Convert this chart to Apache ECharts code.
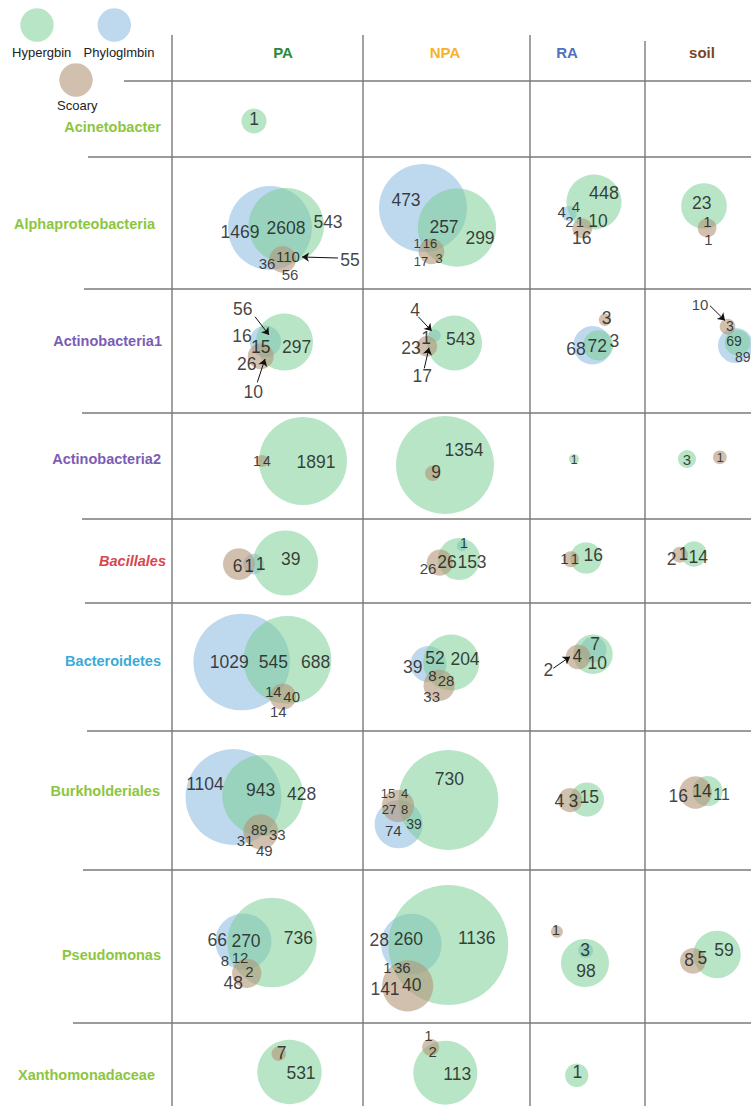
<!DOCTYPE html>
<html>
<head>
<meta charset="utf-8">
<script src="https://cdn.jsdelivr.net/npm/echarts@6/dist/echarts.min.js"></script>
<style>
  html, body { margin: 0; padding: 0; background: #ffffff; }
  #chart { width: 751px; height: 1106px; }
</style>
</head>
<body>
<div id="chart"></div>
<script>
// ---- data -------------------------------------------------------------
const setNames = { H: 'Hypergbin', P: 'Phyloglmbin', S: 'Scoary' };
const sites = ['PA', 'NPA', 'RA', 'soil'];
const taxa = ['Acinetobacter', 'Alphaproteobacteria', 'Actinobacteria1', 'Actinobacteria2',
  'Bacillales', 'Bacteroidetes', 'Burkholderiales', 'Pseudomonas', 'Xanthomonadaceae'];

// Venn region counts, order: H only, P only, S only, H&P, H&S, P&S, H&P&S
const regions = ['H', 'P', 'S', 'HP', 'HS', 'PS', 'HPS'];

// one entry per site (PA, NPA, RA, soil); null = no diagram
const acinetobacter = [[1, 0, 0, 0, 0, 0, 0], null, null, null];
const alphaproteobacteria = [[543, 1469, 56, 2608, 55, 36, 110], [299, 473, 17, 257, 3, 1, 16], [448, 4, 16, 4, 10, 2, 1], [23, 0, 1, 0, 1, 0, 0]];
const actinobacteria1 = [[297, 16, 26, 56, 10, 0, 15], [543, 0, 23, 4, 17, 0, 1], [3, 68, 3, 72, 0, 0, 0], [0, 89, 10, 69, 0, 3, 0]];
const actinobacteria2 = [[1891, 0, 1, 0, 4, 0, 0], [1354, 0, 0, 0, 9, 0, 0], [1, 0, 0, 0, 0, 0, 0], [3, 0, 1, 0, 0, 0, 0]];
const bacillales = [[39, 0, 6, 1, 0, 1, 0], [153, 0, 26, 1, 26, 0, 0], [16, 0, 1, 0, 1, 0, 0], [14, 0, 2, 0, 1, 0, 0]];
const bacteroidetes = [[688, 1029, 14, 545, 40, 0, 14], [204, 39, 33, 52, 28, 0, 8], [10, 0, 2, 7, 4, 0, 0], null];
const burkholderiales = [[428, 1104, 49, 943, 33, 31, 89], [730, 74, 15, 39, 4, 27, 8], [15, 0, 4, 0, 3, 0, 0], [11, 0, 16, 0, 14, 0, 0]];
const pseudomonas = [[736, 66, 48, 270, 2, 8, 12], [1136, 28, 141, 260, 40, 1, 36], [98, 0, 1, 3, 0, 0, 0], [59, 0, 8, 0, 5, 0, 0]];
const xanthomonadaceae = [[531, 0, 0, 0, 7, 0, 0], [113, 0, 1, 0, 2, 0, 0], [1, 0, 0, 0, 0, 0, 0], null];

const taxonCounts = [acinetobacter, alphaproteobacteria, actinobacteria1, actinobacteria2,
  bacillales, bacteroidetes, burkholderiales, pseudomonas, xanthomonadaceae];

// ---- table geometry & styles -------------------------------------------
const W = 751, H = 1106;
const colEdges = [172, 363, 530, 645, 751];
const rowEdges = [81, 157, 289, 413, 519, 603, 731, 870, 1023, 1106];
const rowLineStart = [124, 88, 84, 82, 82, 85, 87, 83, 73];
const headerX = [283, 445, 567, 702];
const headerColors = ['#2c8a3c', '#f6b22c', '#5070c0', '#7a4520'];
const rowLabelColors = ['#8cc63e', '#8cc63e', '#7b5db5', '#7b5db5', '#d9474b', '#3aabd6', '#8cc63e', '#8cc63e', '#8cc63e'];
const rowLabelRight = [161, 155, 162, 161, 166, 161, 160, 161, 155];
const rowLabelY = [127, 224, 341, 459, 561, 661, 791, 955, 1075];
const fills = { H: 'rgba(124,208,150,0.55)', P: 'rgba(137,184,224,0.55)', S: 'rgba(178,146,118,0.58)' };
const FONT = '"Liberation Sans", Arial, Helvetica, sans-serif';

// Per-diagram layout: radius of the largest circle, position of the first circle
// inside its cell, the direction in which each further circle is placed from another
// one (distance follows from the shared count), and where region counts are written.
const layout = {
  'Acinetobacter|PA': { size: 12.5, first: 'H', at: [82, 40], place: [], labels: [['H', 82, 38]] },

  'Alphaproteobacteria|PA': { size: 42, first: 'P', at: [98, 71], place: [['H', 'P', -8], ['S', 'H', 96]],
    labels: [['P', 68, 75], ['HP', 114, 71], ['H', 156, 65], ['HPS', 116, 99, 15], ['PS', 95, 106, 15], ['S', 118, 117, 15], ['HS', 178, 103]],
    arrows: [[166, 101, 130, 100]] },
  'Alphaproteobacteria|NPA': { size: 44, first: 'P', at: [60, 51], place: [['H', 'P', 30], ['S', 'P', 79]],
    labels: [['P', 43, 43], ['HP', 81, 70], ['H', 117, 81], ['PS', 54, 86, 13], ['HPS', 67, 86, 13], ['S', 58, 104, 13], ['HS', 76, 101.5, 13]] },
  'Alphaproteobacteria|RA': { size: 27.5, first: 'H', at: [64, 45], place: [['P', 'H', 155], ['S', 'H', 114]],
    labels: [['H', 74, 36, 18], ['P', 31.7, 54.7, 15], ['HP', 46, 49.7, 15], ['PS', 39.3, 64.7, 15], ['HPS', 50, 64.7, 15], ['HS', 68, 64], ['S', 51.7, 81.3]] },
  'Alphaproteobacteria|soil': { size: 22.8, first: 'H', at: [59, 49], place: [['S', 'H', 82]],
    labels: [['H', 56.7, 45.7], ['HS', 62.3, 64.7, 15], ['S', 63.3, 82.3, 15]] },

  'Actinobacteria1|PA': { size: 28.5, first: 'H', at: [112.5, 53], place: [['P', 'H', 182], ['S', 'H', 149]],
    labels: [['HP', 70.7, 20], ['P', 70, 46.7], ['HPS', 88.7, 58.3], ['H', 124.7, 57.7], ['S', 74.7, 75], ['HS', 81.3, 102.7]],
    arrows: [[83, 27.7, 97, 46], [85.3, 93.3, 93, 70]] },
  'Actinobacteria1|NPA': { size: 27.5, first: 'H', at: [91.5, 54], place: [['P', 'H', 200, { inset: 1 }], ['S', 'H', 173]],
    labels: [['HP', 52, 21], ['HPS', 63, 48.7], ['S', 48, 58.7], ['HS', 59.3, 86.7], ['H', 97.7, 50.3]],
    arrows: [[55.3, 27.7, 68.7, 42], [61.3, 79.3, 66, 58.7]] },
  'Actinobacteria1|RA': { size: 19.2, first: 'P', at: [62.5, 56.3], place: [['H', 'P', 0], ['S', 'P', -64, { gap: 3 }]],
    labels: [['S', 76.7, 29.3], ['P', 46, 60], ['HP', 67.3, 56.7], ['H', 84.3, 52]] },
  'Actinobacteria1|soil': { size: 17.5, first: 'P', at: [90.5, 56.5], place: [['H', 'P', -55, { inset: 0.75 }], ['S', 'P', 247]],
    labels: [['S', 55, 15.3, 15], ['PS', 85, 36.5, 14], ['HP', 89, 51.5, 14], ['P', 97.7, 67.5, 14]],
    arrows: [[65, 16.7, 80, 31.5]] },

  'Actinobacteria2|PA': { size: 44, first: 'H', at: [131, 48], place: [['S', 'H', 180]],
    labels: [['S', 85, 48, 14], ['HS', 95, 48, 14], ['H', 144, 49]] },
  'Actinobacteria2|NPA': { size: 49, first: 'H', at: [82, 52], place: [['S', 'H', 146, { inset: 0.36 }]],
    labels: [['H', 101, 37], ['HS', 73, 59]] },
  'Actinobacteria2|RA': { size: 5, first: 'H', at: [44, 46], place: [], labels: [['H', 44, 46, 13]] },
  'Actinobacteria2|soil': { size: 9, first: 'H', at: [42, 46], place: [['S', 'H', -3, { gap: 17 }]],
    labels: [['H', 42, 46, 15], ['S', 75, 44, 13]] },

  'Bacillales|PA': { size: 32.5, first: 'H', at: [113.5, 44], place: [['P', 'H', 178], ['S', 'P', 180]],
    labels: [['S', 65.7, 47], ['PS', 77, 47], ['HP', 88.7, 45.3], ['H', 118.7, 39.7]] },
  'Bacillales|NPA': { size: 21, first: 'H', at: [96, 40], place: [['S', 'H', 169], ['P', 'H', -77, { inset: 0.85 }]],
    labels: [['HP', 101, 23, 15], ['S', 65, 49, 15], ['HS', 84, 43], ['H', 109, 43]] },
  'Bacillales|RA': { size: 15.8, first: 'H', at: [56, 39], place: [['S', 'H', 175]],
    labels: [['S', 34.5, 39.7, 15], ['HS', 45, 39.7, 15], ['H', 63.3, 36.3]] },
  'Bacillales|soil': { size: 12.8, first: 'H', at: [49, 35], place: [['S', 'H', 177]],
    labels: [['S', 26.7, 39.7], ['HS', 38.3, 35.3], ['H', 53.3, 37.7]] },

  'Bacteroidetes|PA': { size: 48.3, first: 'P', at: [69.7, 59], place: [['H', 'P', -2.6], ['S', 'H', 97]],
    labels: [['P', 57.3, 58.7], ['HP', 101.3, 59.3], ['H', 143.7, 58.7], ['HPS', 101.3, 88.7, 15], ['HS', 119.7, 93.7, 15], ['S', 106.3, 108.7, 15]] },
  'Bacteroidetes|NPA': { size: 28, first: 'H', at: [88.3, 59.5], place: [['P', 'H', 176], ['S', 'H', 118]],
    labels: [['P', 49.7, 63.7], ['HP', 72, 55.3], ['H', 102, 56.3], ['HPS', 69.3, 72, 15], ['HS', 83, 77, 15], ['S', 68.7, 93.7, 15]] },
  'Bacteroidetes|RA': { size: 19.7, first: 'H', at: [63, 51.3], place: [['P', 'H', -84, { inset: 0.7 }], ['S', 'H', 170]],
    labels: [['HP', 65, 41.3], ['H', 67.3, 60.3], ['HS', 47.3, 52.7], ['S', 18.3, 67]],
    arrows: [[23.3, 65.3, 40, 53.7]] },

  'Burkholderiales|PA': { size: 48, first: 'P', at: [61.5, 66], place: [['H', 'P', -3], ['S', 'H', 93]],
    labels: [['P', 33, 53], ['HP', 88.7, 59], ['H', 129.7, 63.3], ['HPS', 87.3, 98, 15], ['HS', 105.3, 103.3, 15], ['PS', 73, 109, 15], ['S', 92.3, 119, 15]] },
  'Burkholderiales|NPA': { size: 50, first: 'H', at: [85.3, 69], place: [['P', 'H', 154], ['S', 'P', 268]],
    labels: [['H', 86.3, 48], ['S', 25, 62.5, 13], ['HS', 41.5, 62.5, 13], ['PS', 26, 78.5, 13], ['HPS', 41.5, 78.5, 13], ['HP', 51, 93, 14], ['P', 30.3, 99, 15]] },
  'Burkholderiales|RA': { size: 17, first: 'H', at: [57, 68.5], place: [['S', 'H', 178]],
    labels: [['S', 29.3, 69.7], ['HS', 43.3, 69.7], ['H', 59.3, 65.7]] },
  'Burkholderiales|soil': { size: 16.2, first: 'S', at: [50.5, 61.5], place: [['H', 'S', -6.5]],
    labels: [['S', 33.3, 65], ['HS', 57, 59.7], ['H', 76.5, 63, 16]] },

  'Pseudomonas|PA': { size: 44.7, first: 'H', at: [100, 72.5], place: [['P', 'H', 182], ['S', 'P', 84]],
    labels: [['P', 45.3, 70], ['HP', 74, 70.7], ['H', 126.3, 68.3], ['PS', 53, 90.7, 15], ['HPS', 68, 87.3, 15], ['HS', 77.3, 101.7, 15], ['S', 61.3, 113.3]] },
  'Pseudomonas|NPA': { size: 60, first: 'H', at: [85.3, 75], place: [['P', 'H', 181.5], ['S', 'P', 95]],
    labels: [['P', 16.3, 70], ['HP', 45.3, 69.3], ['H', 113.7, 68.3], ['PS', 24.3, 97.3, 15], ['HPS', 39.3, 97.3, 15], ['S', 22, 119.3], ['HS', 48.7, 115]] },
  'Pseudomonas|RA': { size: 24, first: 'H', at: [55, 93], place: [['P', 'H', -87, { inset: 0.76 }], ['S', 'H', 228, { gap: 12 }]],
    labels: [['S', 26, 59.3, 15], ['HP', 55, 80], ['H', 56, 100.7]] },
  'Pseudomonas|soil': { size: 23.7, first: 'H', at: [72, 84.5], place: [['S', 'H', 165]],
    labels: [['S', 44, 90], ['HS', 57.3, 87.7], ['H', 79, 80]] },

  'Xanthomonadaceae|PA': { size: 32.2, first: 'H', at: [117.5, 49], place: [['S', 'H', 239.5, { inset: 0.85 }]],
    labels: [['HS', 109.7, 30.3], ['H', 129, 50.3]] },
  'Xanthomonadaceae|NPA': { size: 32, first: 'H', at: [82.3, 49.7], place: [['S', 'H', 240]],
    labels: [['S', 65.3, 12, 15], ['HS', 69.7, 28.7, 15], ['H', 94.3, 51]] },
  'Xanthomonadaceae|RA': { size: 11.7, first: 'H', at: [46.7, 52.3], place: [], labels: [['H', 47.3, 48.7]] }
};

// ---- Venn helpers -----------------------------------------------------
const R0 = 4; // minimum circle radius so that tiny sets stay visible

function setTotals(c) {
  return { H: c[0] + c[3] + c[4] + c[6], P: c[1] + c[3] + c[5] + c[6], S: c[2] + c[4] + c[5] + c[6] };
}
function shared(c, a, b) {
  const key = [a, b].sort().join('');
  return { HP: c[3] + c[6], HS: c[4] + c[6], PS: c[5] + c[6] }[key];
}
// area of the lens where two circles overlap
function lens(r1, r2, d) {
  if (d >= r1 + r2) return 0;
  if (d <= Math.abs(r1 - r2)) return Math.PI * Math.min(r1, r2) ** 2;
  const a = r1 * r1 * Math.acos((d * d + r1 * r1 - r2 * r2) / (2 * d * r1));
  const b = r2 * r2 * Math.acos((d * d + r2 * r2 - r1 * r1) / (2 * d * r2));
  const c = 0.5 * Math.sqrt((-d + r1 + r2) * (d + r1 - r2) * (d - r1 + r2) * (d + r1 + r2));
  return a + b - c;
}
// centre distance that makes the lens cover `frac` of the smaller circle
function distFor(r1, r2, frac, opt) {
  const rs = Math.min(r1, r2), R = Math.max(r1, r2);
  if (frac <= 0) return r1 + r2 + (opt.gap != null ? opt.gap : 3);
  if (frac >= 1) return (R - rs) * (opt.inset != null ? opt.inset : 0.5);
  const target = frac * Math.PI * rs * rs;
  let lo = R - rs, hi = R + rs;
  for (let i = 0; i < 60; i++) {
    const m = (lo + hi) / 2;
    if (lens(r1, r2, m) > target) lo = m; else hi = m;
  }
  return (lo + hi) / 2;
}

// ---- build series data ------------------------------------------------
const circleData = { H: [], P: [], S: [] };
const labelData = [];
const arrowData = [];

taxa.forEach((taxon, ti) => {
  sites.forEach((site, si) => {
    const counts = taxonCounts[ti][si];
    const lay = layout[taxon + '|' + site];
    if (!counts || !lay) return;
    const x0 = colEdges[si], y0 = rowEdges[ti];
    const tot = setTotals(counts);
    const nMax = Math.max(tot.H, tot.P, tot.S);
    const k = (lay.size - R0) / Math.sqrt(nMax);
    const rad = {};
    ['H', 'P', 'S'].forEach(s => { rad[s] = tot[s] > 0 ? R0 + k * Math.sqrt(tot[s]) : 0; });
    const pos = {};
    pos[lay.first] = [x0 + lay.at[0], y0 + lay.at[1]];
    lay.place.forEach(([s, from, ang, opt]) => {
      const frac = shared(counts, s, from) / Math.min(tot[s], tot[from]);
      const d = distFor(rad[from], rad[s], frac, opt || {});
      const a = ang * Math.PI / 180;
      pos[s] = [pos[from][0] + d * Math.cos(a), pos[from][1] + d * Math.sin(a)];
    });
    ['H', 'P', 'S'].forEach(s => {
      if (pos[s]) circleData[s].push([pos[s][0], pos[s][1], rad[s], tot[s], taxon, site]);
    });
    lay.labels.forEach(([key, lx, ly, fs]) => {
      const item = { value: [x0 + lx, y0 + ly, counts[regions.indexOf(key)]] };
      if (fs) item.label = { fontSize: fs };
      labelData.push(item);
    });
    (lay.arrows || []).forEach(([ax1, ay1, ax2, ay2]) => {
      arrowData.push({ coords: [[x0 + ax1, y0 + ay1], [x0 + ax2, y0 + ay2]] });
    });
  });
});

// ---- table frame, headers, row names, legend --------------------------
const graphics = [];
const lineStyle = { stroke: '#7a7a7a', lineWidth: 1.4 };
[[172, 35], [363, 35], [530, 35], [645, 41]].forEach(([x, top]) => {
  graphics.push({ type: 'line', shape: { x1: x, y1: top, x2: x, y2: H }, style: lineStyle, silent: true });
});
rowEdges.slice(0, 9).forEach((y, i) => {
  graphics.push({ type: 'line', shape: { x1: rowLineStart[i], y1: y, x2: W, y2: y }, style: lineStyle, silent: true });
});
sites.forEach((site, i) => {
  graphics.push({ type: 'text', x: headerX[i], y: 52, silent: true,
    style: { text: site, fill: headerColors[i], font: 'bold 15px ' + FONT,
      align: 'center', verticalAlign: 'middle', textAlign: 'center', textVerticalAlign: 'middle' } });
});
taxa.forEach((taxon, i) => {
  graphics.push({ type: 'text', x: rowLabelRight[i], y: rowLabelY[i], silent: true,
    style: { text: taxon, fill: rowLabelColors[i],
      font: (taxon === 'Bacillales' ? 'italic ' : '') + 'bold 14.5px ' + FONT,
      align: 'right', verticalAlign: 'middle', textAlign: 'right', textVerticalAlign: 'middle' } });
});
[['H', 37, 25, 41.7, 52], ['P', 114.3, 25, 119, 52], ['S', 76, 80, 77.3, 105]].forEach(([s, cx, cy, tx, ty]) => {
  graphics.push({ type: 'circle', shape: { cx: cx, cy: cy, r: 16.7 }, style: { fill: fills[s] }, silent: true });
  graphics.push({ type: 'text', x: tx, y: ty, silent: true,
    style: { text: setNames[s], fill: '#222', font: '13px ' + FONT,
      align: 'center', verticalAlign: 'middle', textAlign: 'center', textVerticalAlign: 'middle' } });
});

// ---- chart ------------------------------------------------------------
const chart = echarts.init(document.getElementById('chart'), null, { renderer: 'svg' });
chart.setOption({
  animation: false,
  backgroundColor: '#ffffff',
  grid: { left: 0, right: 0, top: 0, bottom: 0 },
  xAxis: { type: 'value', min: 0, max: W, show: false },
  yAxis: { type: 'value', min: 0, max: H, inverse: true, show: false },
  graphic: graphics,
  series: [
    ...['P', 'H', 'S'].map(s => ({
      type: 'scatter', name: setNames[s], data: circleData[s], silent: true, z: 2,
      symbolSize: v => v[2] * 2,
      itemStyle: { color: fills[s], opacity: 1 },
      emphasis: { disabled: true }
    })),
    {
      type: 'lines', coordinateSystem: 'cartesian2d', data: arrowData, silent: true, z: 3,
      symbol: ['none', 'arrow'], symbolSize: 7,
      lineStyle: { color: '#111', width: 1, opacity: 1, curveness: 0 }
    },
    {
      type: 'scatter', data: labelData, silent: true, z: 4, symbolSize: 1,
      itemStyle: { color: 'rgba(0,0,0,0)' },
      label: { show: true, position: 'inside', formatter: p => String(p.value[2]),
        color: '#111111', fontSize: 17.5, fontFamily: FONT },
      emphasis: { disabled: true }
    }
  ]
});
</script>
</body>
</html>
